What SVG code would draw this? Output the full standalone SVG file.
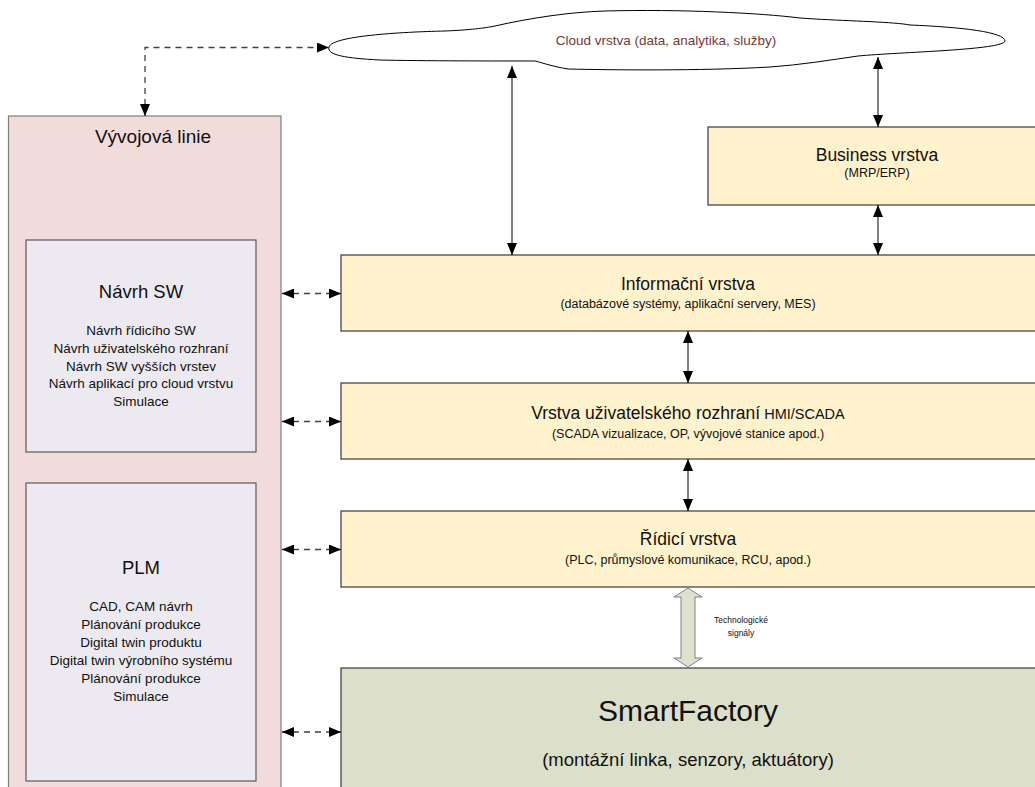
<svg xmlns="http://www.w3.org/2000/svg" width="1035" height="787" viewBox="0 0 1035 787">
  <style>
    text { font-family: "Liberation Sans", Arial, sans-serif; fill: #111; }
    .mid { text-anchor: middle; }
    .layer { fill: #FFF2CC; stroke: #3A3A3A; stroke-width: 1.2; }
    .factory { fill: #DCE0CA; stroke: #3A3A3A; stroke-width: 1.2; }
    .dev { fill: #F2DCDB; stroke: #7F7F7F; stroke-width: 1.2; }
    .inner { fill: #ECEAF0; stroke: #595959; stroke-width: 1.2; }
    .title { font-size: 17.5px; }
    .sub { font-size: 12.5px; }
    .item { font-size: 13.5px; }
    .solid { stroke: #000; stroke-width: 1; fill: none; marker-start: url(#tri); marker-end: url(#tri); }
    .dash { stroke: #404040; stroke-width: 1.3; fill: none; stroke-dasharray: 6 5; marker-start: url(#tri); marker-end: url(#tri); }
  </style>
  <defs>
    <marker id="tri" viewBox="0 0 12 10" refX="12" refY="5" markerWidth="12" markerHeight="10" markerUnits="userSpaceOnUse" orient="auto-start-reverse">
      <path d="M0,0 L12,5 L0,10 Z" fill="#000"/>
    </marker>
  </defs>

  <!-- development line (left column) -->
  <g id="vyvojova-linie">
    <rect class="dev" x="8.5" y="116" width="272.5" height="700"/>
    <text class="mid" x="153" y="143" style="font-size:19px">Vývojová linie</text>
  </g>

  <g id="navrh-sw">
    <rect class="inner" x="26" y="240" width="230" height="212"/>
    <text class="mid" x="141" y="298" style="font-size:18.5px">Návrh SW</text>
    <text class="mid item" x="141" y="335">Návrh řídicího SW</text>
    <text class="mid item" x="141" y="353">Návrh uživatelského rozhraní</text>
    <text class="mid item" x="141" y="371">Návrh SW vyšších vrstev</text>
    <text class="mid item" x="141" y="388">Návrh aplikací pro cloud vrstvu</text>
    <text class="mid item" x="141" y="406">Simulace</text>
  </g>

  <g id="plm">
    <rect class="inner" x="26" y="483" width="230" height="298"/>
    <text class="mid" x="141" y="574" style="font-size:18.5px">PLM</text>
    <text class="mid item" x="141" y="611">CAD, CAM návrh</text>
    <text class="mid item" x="141" y="629">Plánování produkce</text>
    <text class="mid item" x="141" y="647">Digital twin produktu</text>
    <text class="mid item" x="141" y="665">Digital twin výrobního systému</text>
    <text class="mid item" x="141" y="683">Plánování produkce</text>
    <text class="mid item" x="141" y="701">Simulace</text>
  </g>

  <!-- cloud -->
  <g id="cloud">
    <path d="M329,47 C332,36 400,32 445,31 C470,30 485,28 495,26 C530,18 570,12 605,11 C680,9 760,13 800,18 L815,19 C850,21 895,22 910,25 C960,27 1005,32 1005,41 C1004,50 900,52 858,56 C830,60 800,65 770,67 C700,71 610,70 568,69 C550,66 540,62 535,61 C500,61 420,61 380,60 C340,58 327,54 329,47 Z" fill="#FFFFFF" stroke="#000" stroke-width="1"/>
    <text class="mid" x="666" y="45" style="font-size:13.5px; fill:#77393A">Cloud vrstva (data, analytika, služby)</text>
  </g>

  <!-- layers -->
  <g id="business">
    <rect class="layer" x="708" y="127" width="345" height="78"/>
    <text class="mid title" x="877" y="161">Business vrstva</text>
    <text class="mid sub" x="877" y="177">(MRP/ERP)</text>
  </g>

  <g id="informacni">
    <rect class="layer" x="341" y="255" width="720" height="76"/>
    <text class="mid title" x="688" y="290">Informační vrstva</text>
    <text class="mid sub" x="688" y="308">(databázové systémy, aplikační servery, MES)</text>
  </g>

  <g id="hmi-scada">
    <rect class="layer" x="341" y="383" width="720" height="76"/>
    <text class="mid title" x="688" y="419">Vrstva uživatelského rozhraní<tspan style="font-size:14.5px"> HMI/SCADA</tspan></text>
    <text class="mid sub" x="688" y="438">(SCADA vizualizace, OP, vývojové stanice apod.)</text>
  </g>

  <g id="ridici">
    <rect class="layer" x="341" y="511" width="720" height="76"/>
    <text class="mid title" x="688" y="545">Řídicí vrstva</text>
    <text class="mid sub" x="688" y="564">(PLC, průmyslové komunikace, RCU, apod.)</text>
  </g>

  <g id="smartfactory">
    <rect class="factory" x="341" y="668" width="720" height="140"/>
    <text class="mid" x="688" y="721" style="font-size:30px">SmartFactory</text>
    <text class="mid" x="688" y="766" style="font-size:18.5px">(montážní linka, senzory, aktuátory)</text>
  </g>

  <!-- connectors -->
  <g id="connectors">
    <path class="dash" d="M145,116 L145,47.5 L329,47.5"/>
    <path class="solid" d="M512,66 L512,255"/>
    <path class="solid" d="M878,57 L878,127"/>
    <path class="solid" d="M878,205 L878,255"/>
    <path class="solid" d="M688,331 L688,383"/>
    <path class="solid" d="M688,459 L688,511"/>
    <path class="dash" d="M282,293.5 L341,293.5"/>
    <path class="dash" d="M282,421.5 L341,421.5"/>
    <path class="dash" d="M282,549.5 L341,549.5"/>
    <path class="dash" d="M282,732 L341,732"/>
    <path d="M688,588 L702,597 L695,597 L695,658 L702,658 L688,667 L674,658 L681,658 L681,597 L674,597 Z" fill="#DDE2CE" stroke="#7F7F7F" stroke-width="1"/>
    <text class="mid" x="741" y="623" style="font-size:8.5px">Technologické</text>
    <text class="mid" x="741" y="636" style="font-size:8.5px">signály</text>
  </g>
</svg>
